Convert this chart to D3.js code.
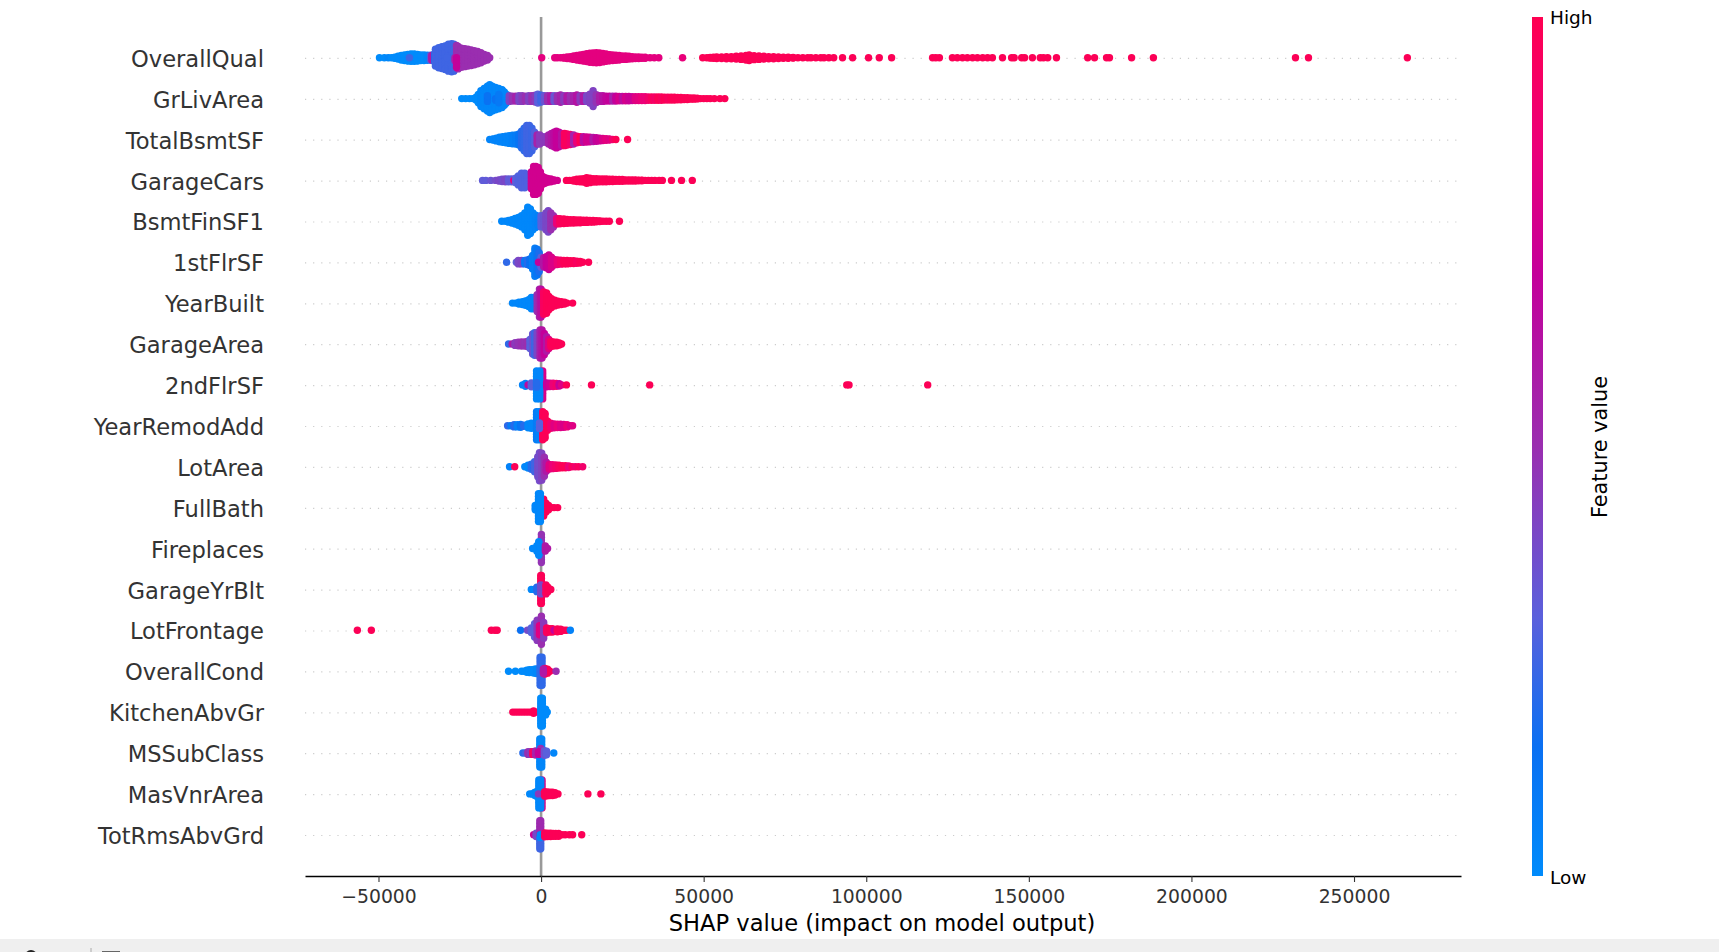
<!DOCTYPE html>
<html>
<head>
<meta charset="utf-8">
<script src="https://cdn.jsdelivr.net/npm/d3@7"></script>
<style>
	html, body { margin: 0; padding: 0; background: #fff; overflow: hidden; }
	text { font-family: "DejaVu Sans", sans-serif; }
</style>
</head>
<body>
<div id="layout"></div>
<script>
//Feature names, top to bottom
var featureNames = ['OverallQual', 'GrLivArea', 'TotalBsmtSF', 'GarageCars', 'BsmtFinSF1', '1stFlrSF', 'YearBuilt', 'GarageArea', '2ndFlrSF', 'YearRemodAdd', 'LotArea', 'FullBath', 'Fireplaces', 'GarageYrBlt', 'LotFrontage', 'OverallCond', 'KitchenAbvGr', 'MSSubClass', 'MasVnrArea', 'TotRmsAbvGrd'];
var xTicks = [-50000, 0, 50000, 100000, 150000, 200000, 250000];

//Every entry: [shap value, swarm half height in dots, feature value 0-1, optional side -1 up / 1 down]
var overallQual = [[-49700,0,0],[-48200,0,0],[-47000,0,.03],[-46000,0,0],[-45000,.2,0],[-44000,.5,0],[-43000,.8,0],[-42000,1,0],[-41000,1.2,0],[-40000,1.3,0],[-39000,1.3,0],[-38000,1.2,0],[-37000,1,0],[-36000,1,0],[-35000,.9,.02],[-40500,0,.25],[-34000,.9,.28],[-33600,.8,.6],[-32700,1.5,.2],
	[-32500,3,.25],[-31500,3.6,.25],[-30500,3.9,.25],[-29500,4.2,.25],[-28500,4.8,.25],[-27500,5,.25],[-26800,4.8,.25],[-26000,4.4,.5,-1],[-25500,4,.5],[-24500,3.4,.5],[-23500,3.2,.5],[-22500,3,.5],[-21500,2.8,.5],[-20500,2.5,.5],[-19500,2.2,.5],[-18500,1.8,.5],[-17500,1.2,.5],[-16500,.8,.5],[-15800,0,.5],[-26500,1,.55,1],[-29000,0,.25,1],[-26000,3.5,.7,1],
	[200,0,.82],[4200,0,.82],[5000,0,.82],[6000,0,.82],[7000,.1,.82],[8000,.3,.82],[9000,.4,.82],[10000,.6,.82],[11000,.8,.82],[12000,1,.82],[13000,1.2,.82],[14000,1.4,.82],[15000,1.6,.82],[16000,1.7,.82],[17000,1.8,.82],[18000,1.7,.82],[19000,1.5,.82],[20000,1.3,.82],[21000,1.1,.82],[22000,1,.82],[23000,.9,.82],[24000,.8,.82],[25000,.6,.82],[26000,.6,.82],[27000,.5,.82],[28000,.4,.82],[29000,.3,.82],[30000,.3,.82],[31000,.2,.82],[32000,.2,.82],[33500,0,.82],[34800,0,.82],[36200,0,.82],[43500,0,.84],
	[49700,0,.98],[51000,0,.98],[52000,.1,.98],[53000,.2,.98],[54000,.3,.98],[55500,.3,.98],[57000,.4,.98],[58500,.4,.98],[60000,.5,.98],[61500,.6,.98],[63000,.8,.98],[64000,1,.98],[65500,.7,.98],[67000,.6,.98],[68500,.5,.98],[70000,.4,.98],[71500,.4,.98],[73000,.3,.98],[74500,.2,.98],[76000,.2,.98],[77500,.1,.98],[79000,0,.98],[80500,0,.98],[82000,0,.98],[83000,0,.98],[84500,0,.98],[86000,0,.98],[87000,0,.98],[88500,0,.98],[90000,0,.98],[92700,0,.98],[95800,0,.98],[100700,0,.98],[104000,0,.98],[107800,0,.98],
	[120400,0,.98],[121400,0,.98],[122500,0,.98],[126500,0,.98],[128000,0,.98],[129600,0,.98],[131100,0,.98],[132700,0,.98],[134200,0,.98],[135800,0,.98],[137300,0,.98],[138800,0,.98],[141900,0,.98],[144700,0,.98],[145500,0,.98],[147800,0,.98],[148700,0,.98],[151100,0,.98],[153500,0,.98],[154500,0,.98],[155800,0,.98],[158500,0,.98],[168100,0,.98],[170200,0,.98],[173900,0,.98],[174800,0,.98],[181600,0,.98],[188300,0,.98],[232000,0,.98],[236000,0,.98],[266400,0,.98]];
var grLivArea = [[-24400,0,0],[-23200,0,0],[-22000,0,0],[-21000,0,0],[-20000,.5,0],[-19300,1.5,0],[-18500,2.8,.02],[-17500,3.6,.02],[-16500,4.4,.02],[-15800,5,.02],[-15000,4.4,.02],[-14000,4,.02],[-13000,3.6,.02],[-12000,3.2,.02],[-11300,2.4,.02],[-10600,1.5,.03],[-16500,1,.14],[-14000,.6,.14,1],[-13000,1.5,.1],[-9800,1,.42],[-8800,.9,.48],[-7800,.9,.55],[-6800,1,.4],[-5800,1,.45],[-4800,.9,.5],[-3800,1,.42],[-2800,1,.5],[-1800,1.2,.45],[-1000,1.6,.3],[0,1.2,.25],[1000,1,.35],[2000,1,.5],[3000,1,.6],[4000,1,.35],[5000,1,.5],[6000,1.3,.55],[7000,1,.45],[8000,1,.6],[9000,1,.5],[10000,1,.55],[11000,1.3,.62],[12000,1,.45],[13000,1,.6],[14000,1,.4],[15000,1.6,.42],[16000,2.8,.42],[17000,1.4,.48],[18000,1,.58],[19000,1,.62],[20000,.9,.68],[21000,.9,.7],[22000,.9,.55],[23000,.9,.7],[24000,.8,.76],[25000,.8,.65],[26000,.8,.76],[27000,.8,.72],[28000,.7,.72],[29000,.7,.8],[30000,.7,.82],[31000,.7,.85],[32000,.7,.85],[33000,.6,.9],[34000,.6,.95],[35000,.6,.92],[36000,.6,.98],[37000,.6,.95],[38000,.5,.98],[39000,.5,.95],[40000,.5,.98],[41000,.5,.98],[42000,.4,.98],[43000,.4,.98],[44000,.3,.98],[45000,.3,.98],[46000,.2,.98],[47000,.2,.98],[48000,.1,.98],[49000,0,.98],[50000,0,.98],[51000,0,.98],[52000,0,.98],[53300,0,.98],[55000,0,.98],[56500,0,.98]];
var totalBsmtSF = [[-15800,0,.04],[-14800,.2,.04],[-13800,.5,.04],[-12800,.8,.04],[-11800,1,.04],[-10800,1.2,.04],[-9800,1.4,.04],[-8800,1.5,.06],[-7800,1.6,.08],[-6800,2,.12],[-6000,3,.2],[-5200,4,.22],[-4400,5,.25],[-3600,5,.25],[-2800,4,.24],[-2000,2.6,.28],[-1200,1.6,.55],[-400,1.6,.45],[500,1,.45],[1500,1,.45],[2300,1.6,.55],[3200,2.2,.6],[4000,2.6,.65],[4700,3,.7],[5500,2.6,.7],[6300,2.2,.62],[7200,2.2,.95],[8000,2,.95],[9000,1.8,.9],[10000,1.6,.55],[11000,1.2,.85],[12000,1,.98],[13000,1,.65],[14000,.9,.75],[15000,.8,.75],[16000,.7,.6],[17000,.6,.7],[18000,.5,.72],[19000,.4,.78],[20000,.3,.82],[21000,.2,.8],[22000,0,.9],[23000,0,.98],[26600,0,.98]];
var garageCars = [[-18000,0,.32],[-17000,0,.32],[-15500,0,.35],[-14000,0,.38],[-13000,.2,.4],[-12000,.4,.38],[-11000,.5,.4],[-10000,.5,.32],[-9000,.5,.32],[-8400,0,.8],[-7800,.8,.3],[-7000,1.6,.28],[-6000,2.6,.28],[-5000,2.6,.28],[-4200,1.8,.28],[-3000,3,.75],[-2300,5,.75],[-1600,5,.75],[-900,4.6,.75],[-200,3,.75],[500,1.4,.75],[1200,1,.75],[2000,.7,.75],[3000,.5,.75],[4000,.2,.75],[5000,0,.75],[7800,0,.98],[8800,0,.98],[10000,.2,.98],[11000,.4,.98],[12000,.5,.98],[13000,.6,.98],[14000,1,.98],[15000,.8,.98],[16000,.6,.98],[17000,.6,.98],[18000,.5,.98],[19000,.5,.98],[20000,.5,.98],[21000,.4,.98],[22000,.4,.98],[23000,.3,.98],[24000,.3,.98],[25000,.3,.98],[26000,.2,.98],[27000,.2,.98],[28000,.2,.98],[29000,.2,.98],[30000,.1,.98],[31000,.1,.98],[32000,0,.98],[33000,0,.98],[34000,0,.98],[35000,0,.98],[36300,0,.98],[37300,0,.98],[40100,0,.98],[43200,0,.98],[46500,0,.98]];
var bsmtFinSF1 = [[-12100,0,.02],[-11000,0,.02],[-10000,.3,.02],[-9000,.6,.02],[-8000,1,.02],[-7000,1.4,.02],[-6000,2,.02],[-5000,3,.02],[-4100,5,.02],[-3300,4.4,.02],[-2500,3,.02],[-1700,2.2,.04],[-800,1.8,.05],[0,2,.3],[800,2,.35],[1500,3,.4],[2200,3.8,.4],[3000,3,.5],[3800,2,.5],[4800,1,.85],[5800,.9,.95],[7000,.8,.98],[8000,.7,.98],[9000,.6,.98],[10000,.6,.98],[11000,.5,.98],[12000,.5,.98],[13000,.4,.98],[14000,.4,.98],[15000,.3,.98],[16000,.3,.98],[17000,.2,.98],[18000,.1,.98],[19000,0,.98],[20000,0,.98],[21000,0,.98],[24100,0,.98]];
var firstFlrSF = [[-10600,0,.22],[-7600,0,.3],[-7000,.6,.4],[-6000,.6,.42],[-5000,.6,.1],[-4200,.8,.2],[-3400,1.2,.15],[-2600,2.4,.08],[-1900,5,.08],[-1200,4.6,.12],[-600,3.4,.18],[0,1.8,.3],[-800,0,.7],[800,1.6,.6],[1600,2,.7],[2400,2.6,.72],[3200,1.8,.78],[4000,1,.78],[5000,.8,.85],[6000,.7,.9],[7000,.6,.98],[8000,.6,.98],[9000,.5,.98],[10000,.5,.98],[11000,.4,.95],[12000,.3,.98],[12800,0,.98],[14600,0,.98]];
var yearBuilt = [[-8800,0,.02],[-7800,0,.02],[-6800,.3,.02],[-5700,.5,.02],[-4800,.8,.02],[-3800,1.2,.02],[-3000,2,.02],[-2200,2,.05],[-1200,3,.5],[-500,5,.55],[0,5,.65],[800,4,.95],[1700,3.6,.98],[2400,2.4,.98],[3200,1.6,.98],[4200,1,.98],[5200,.7,.98],[6200,.5,.98],[7200,.3,.98],[8000,0,.98],[9700,0,.98]];
var garageArea = [[-10000,0,.22],[-8900,0,.6],[-8000,.5,.45],[-7000,.6,.48],[-6000,.7,.5],[-5000,.7,.48],[-4200,.9,.5],[-3400,1.6,.3],[-2600,3.6,.35],[-2000,4,.25],[-1200,4,.4],[-300,5,.55],[300,5,.62],[1000,3.8,.7],[1700,2.6,.6],[2400,1.6,.8],[3000,.9,.95],[3800,.7,.98],[4800,.6,.98],[5600,.4,.98],[6300,0,.98]];
var secondFlrSF = [[-5700,0,.05],[-4800,.5,.05],[-4000,0,.65],[-3000,.7,.3],[500,5,.78],[-1400,5,.02],[-400,5,.03],[-1400,.8,.2],[1700,.7,.7],[2700,.6,.75],[3700,.6,.85],[4700,.5,.9],[5600,.4,.7],[6300,0,.8],[7800,0,.98],[15500,0,.98],[33400,0,.98],[94000,0,.98],[94700,0,.98],[118900,0,.98]];
var yearRemodAdd = [[-10300,0,.22],[-9300,0,.08],[-8300,.4,.2],[-7300,.4,.05],[-6300,.5,.12],[-5300,.2,.2],[-4000,.7,.02],[-3000,.9,.02],[-1400,5,.08],[-600,5,.05],[500,5,.98],[1200,4.4,.98],[-500,1,.3],[2000,1.6,.98],[3000,.9,.9],[4000,.7,.8],[5000,.6,.85],[6000,.6,.8],[7000,.5,.78],[8000,.4,.85],[9000,0,.8],[9700,0,.8]];
var lotArea = [[-9700,0,.05],[-8100,0,.98],[-5000,0,.02],[-4000,.5,.02],[-3000,.9,.2],[-2000,1.8,.25],[-1000,3.6,.38],[-500,5,.38],[200,4.8,.42],[1000,3.4,.5],[1600,1.6,.6],[2500,.8,.8],[3500,.7,.85],[4500,.6,.9],[5500,.5,.95],[6500,.4,.98],[7500,.4,.98],[8500,.3,.85],[9500,0,.95],[10500,0,.9],[11500,0,.95],[12800,0,.9]];
var fullBath = [[-1800,.8,.02],[800,3,.98],[1500,1.6,.98],[-800,5,.02],[-200,5,.02],[2300,.8,.98],[3200,0,.98],[4000,0,.98],[5100,0,.98]];
var fireplaces = [[100,5,.48],[-700,2.4,.02],[-1300,1,.02],[-2600,0,.02],[1300,.9,.6],[2000,0,.6]];
var garageYrBlt = [[100,5,.95],[-100,5,.98],[-3000,0,.02],[-2100,0,.02],[-1300,.8,.2],[-100,1.6,.4],[1500,1.6,.95],[2100,.8,.98],[3000,0,.98]];
var lotFrontage = [[-56500,0,.98],[-52200,0,.98],[-15300,0,.98],[-14200,0,.98],[-13500,0,.98],[-6300,0,.15],[-4200,0,.38],[-3000,.8,.3],[-2000,2.4,.3],[-1200,3.6,.45],[100,5,.5],[-500,1.6,.8],[800,2.8,.45],[1700,.8,.95],[2700,.6,.98],[3500,.6,.98],[4000,0,.7],[5000,.5,.98],[6000,.4,.98],[7000,0,.98],[7800,0,.98],[9000,0,.05]];
var overallCond = [[-10000,0,0],[-7900,0,0],[-6000,0,0],[-5200,0,0],[-4400,.4,0],[-3600,.5,0],[-2800,.5,0],[-2000,.7,0],[-1400,.8,.02],[-300,5,.22],[300,5,.22],[1200,1,.98],[2000,.7,.98],[2700,0,.98],[4600,0,.5],[700,.8,.6]];
var kitchenAbvGr = [[-8700,0,.98],[-7900,0,.98],[-7100,0,.98],[-6300,0,.98],[-5500,0,.98],[-4700,0,.98],[-3900,0,.98],[-3100,0,.98],[-2300,.4,.98],[-1500,0,.98],[-100,5,0],[400,5,0],[1400,1,0],[1900,0,0]];
var msSubClass = [[-5600,0,.2],[-4800,0,.25],[-4000,.5,.5],[-3300,.5,.45],[-2600,.5,.95],[-1700,.7,.55],[-400,5,.03],[200,5,.03],[-100,1.6,.5,-1],[-800,.5,.7],[1000,.8,.35],[1700,.6,.3],[3900,0,.03]];
var masVnrArea = [[-3500,0,.02],[-2800,0,.02],[-2000,.5,.02],[-1400,.8,.02],[300,5,.8],[-700,5,.02],[-100,5,.02],[-800,0,.45],[1100,.8,.98],[1900,.7,.98],[2700,.6,.98],[3500,.6,.98],[4300,.4,.98],[5200,0,.98],[14400,0,.98],[18400,0,.98]];
var totRmsAbvGrd = [[-2300,0,.72],[-1500,.6,.4],[-400,5,.5,-1],[-400,5,.25,1],[-100,5,.52,-1],[-100,5,.25,1],[-400,0,.8],[-300,1,.02,1],[1100,.7,.98],[2000,.6,.98],[2900,.6,.98],[3700,.5,.98],[4500,.5,.98],[5400,.5,.98],[6400,0,.98],[7400,0,.98],[8700,0,.98],[9700,0,.98],[12500,0,.98]];

var rowDots = [overallQual, grLivArea, totalBsmtSF, garageCars, bsmtFinSF1, firstFlrSF, yearBuilt, garageArea, secondFlrSF, yearRemodAdd, lotArea, fullBath, fireplaces, garageYrBlt, lotFrontage, overallCond, kitchenAbvGr, msSubClass, masVnrArea, totRmsAbvGrd];

//Colour ramp of the feature value
var colorStops = [0, .15, .3, .5, .7, .85, 1];
var colorValues = ['#008bfb', '#0a70f2', '#5a60dc', '#9a2eb0', '#c4009a', '#ec0078', '#ff0051'];

var svgSelect = d3.select('#layout').append('svg')
	.attr('width', 1719)
	.attr('height', 952)
	.style('display', 'block');

var xScale = d3.scaleLinear().domain([-72600, 282900]).range([305, 1461]);
var yScale = d3.scalePoint().domain(featureNames).range([57.7, 834.8]);
var colorScale = d3.scaleLinear().domain(colorStops).range(colorValues);

var stackStep = 2.8;
var dotRadius = 3.7;

//Row guides
svgSelect.append('g').selectAll('line')
	.data(featureNames)
	.enter()
	.append('line')
		.attr('x1', xScale.range()[0])
		.attr('x2', xScale.range()[1])
		.attr('y1', function(d) { return yScale(d) + 0.7; })
		.attr('y2', function(d) { return yScale(d) + 0.7; })
		.attr('stroke', '#ccc')
		.attr('stroke-width', 1.2)
		.attr('stroke-dasharray', '1.2 6.9');

//Zero line
svgSelect.append('line')
	.attr('x1', xScale(0))
	.attr('x2', xScale(0))
	.attr('y1', 17)
	.attr('y2', 876)
	.attr('stroke', '#999')
	.attr('stroke-width', 2.6);

//Dots, stacked around the row
var dotsGroup = svgSelect.append('g');
featureNames.forEach(function(name, i) {
	var dots = [];
	rowDots[i].forEach(function(entry) {
		var half = entry[1];
		var levels = [0];
		for (var k = 1; k <= half; k++) {
			levels.push(k, -k);
		}
		if (half > Math.floor(half)) {
			levels.push(half, -half);
		}
		levels.forEach(function(level) {
			if (entry[3] === 1 && level < 0) return;
			if (entry[3] === -1 && level > 0) return;
			dots.push({shap: entry[0], level: level, feature: entry[2]});
		});
	});
	dotsGroup.append('g').selectAll('circle')
		.data(dots)
		.enter()
		.append('circle')
			.attr('cx', function(d) { return xScale(d.shap); })
			.attr('cy', function(d) { return yScale(name) + d.level * stackStep; })
			.attr('r', dotRadius)
			.attr('fill', function(d) { return colorScale(d.feature); });
});

//Feature labels
svgSelect.append('g').selectAll('text')
	.data(featureNames)
	.enter()
	.append('text')
		.attr('x', 264)
		.attr('y', function(d) { return yScale(d) + 1.2; })
		.attr('dy', '0.35em')
		.attr('text-anchor', 'end')
		.attr('font-size', '22.6px')
		.attr('fill', '#333')
		.text(function(d) { return d; });

//X axis
var xAxis = svgSelect.append('g')
	.attr('transform', 'translate(0,876)')
	.call(d3.axisBottom(xScale).tickValues(xTicks).tickFormat(d3.format('d')).tickSize(6).tickSizeOuter(0).tickPadding(8));
xAxis.select('.domain').attr('stroke', '#000').attr('stroke-width', 1.5);
xAxis.selectAll('.tick line').attr('stroke', '#333').attr('stroke-width', 1.1);
xAxis.selectAll('.tick text')
	.attr('font-family', '"DejaVu Sans", sans-serif')
	.attr('font-size', '18.8px')
	.attr('fill', '#333');

svgSelect.append('text')
	.attr('x', 882)
	.attr('y', 923)
	.attr('dy', '0.35em')
	.attr('text-anchor', 'middle')
	.attr('font-size', '22.6px')
	.attr('fill', '#000')
	.text('SHAP value (impact on model output)');

//Colour bar
var barGradient = svgSelect.append('defs').append('linearGradient')
	.attr('id', 'barGradient')
	.attr('x1', 0).attr('x2', 0).attr('y1', 1).attr('y2', 0);
barGradient.selectAll('stop')
	.data(colorStops)
	.enter()
	.append('stop')
		.attr('offset', function(d) { return d; })
		.attr('stop-color', function(d) { return colorScale(d); });

svgSelect.append('rect')
	.attr('x', 1532)
	.attr('y', 17)
	.attr('width', 11)
	.attr('height', 859)
	.attr('fill', 'url(#barGradient)');

svgSelect.append('text')
	.attr('x', 1550)
	.attr('y', 18)
	.attr('dy', '0.35em')
	.attr('font-size', '18.5px')
	.attr('fill', '#000')
	.text('High');
svgSelect.append('text')
	.attr('x', 1550)
	.attr('y', 878)
	.attr('dy', '0.35em')
	.attr('font-size', '18.5px')
	.attr('fill', '#000')
	.text('Low');
svgSelect.append('text')
	.attr('transform', 'translate(1600,447) rotate(-90)')
	.attr('text-anchor', 'middle')
	.attr('dy', '0.35em')
	.attr('font-size', '20.8px')
	.attr('fill', '#000')
	.text('Feature value');

//Window strip along the bottom
svgSelect.append('rect')
	.attr('x', 0)
	.attr('y', 939)
	.attr('width', 1719)
	.attr('height', 13)
	.attr('fill', '#efefef');
svgSelect.append('circle')
	.attr('cx', 31).attr('cy', 956).attr('r', 6).attr('fill', '#222');
svgSelect.append('line')
	.attr('x1', 91).attr('x2', 91).attr('y1', 948).attr('y2', 952).attr('stroke', '#aaa');
svgSelect.append('rect')
	.attr('x', 102).attr('y', 951).attr('width', 18).attr('height', 2).attr('fill', '#666');
</script>
</body>
</html>
